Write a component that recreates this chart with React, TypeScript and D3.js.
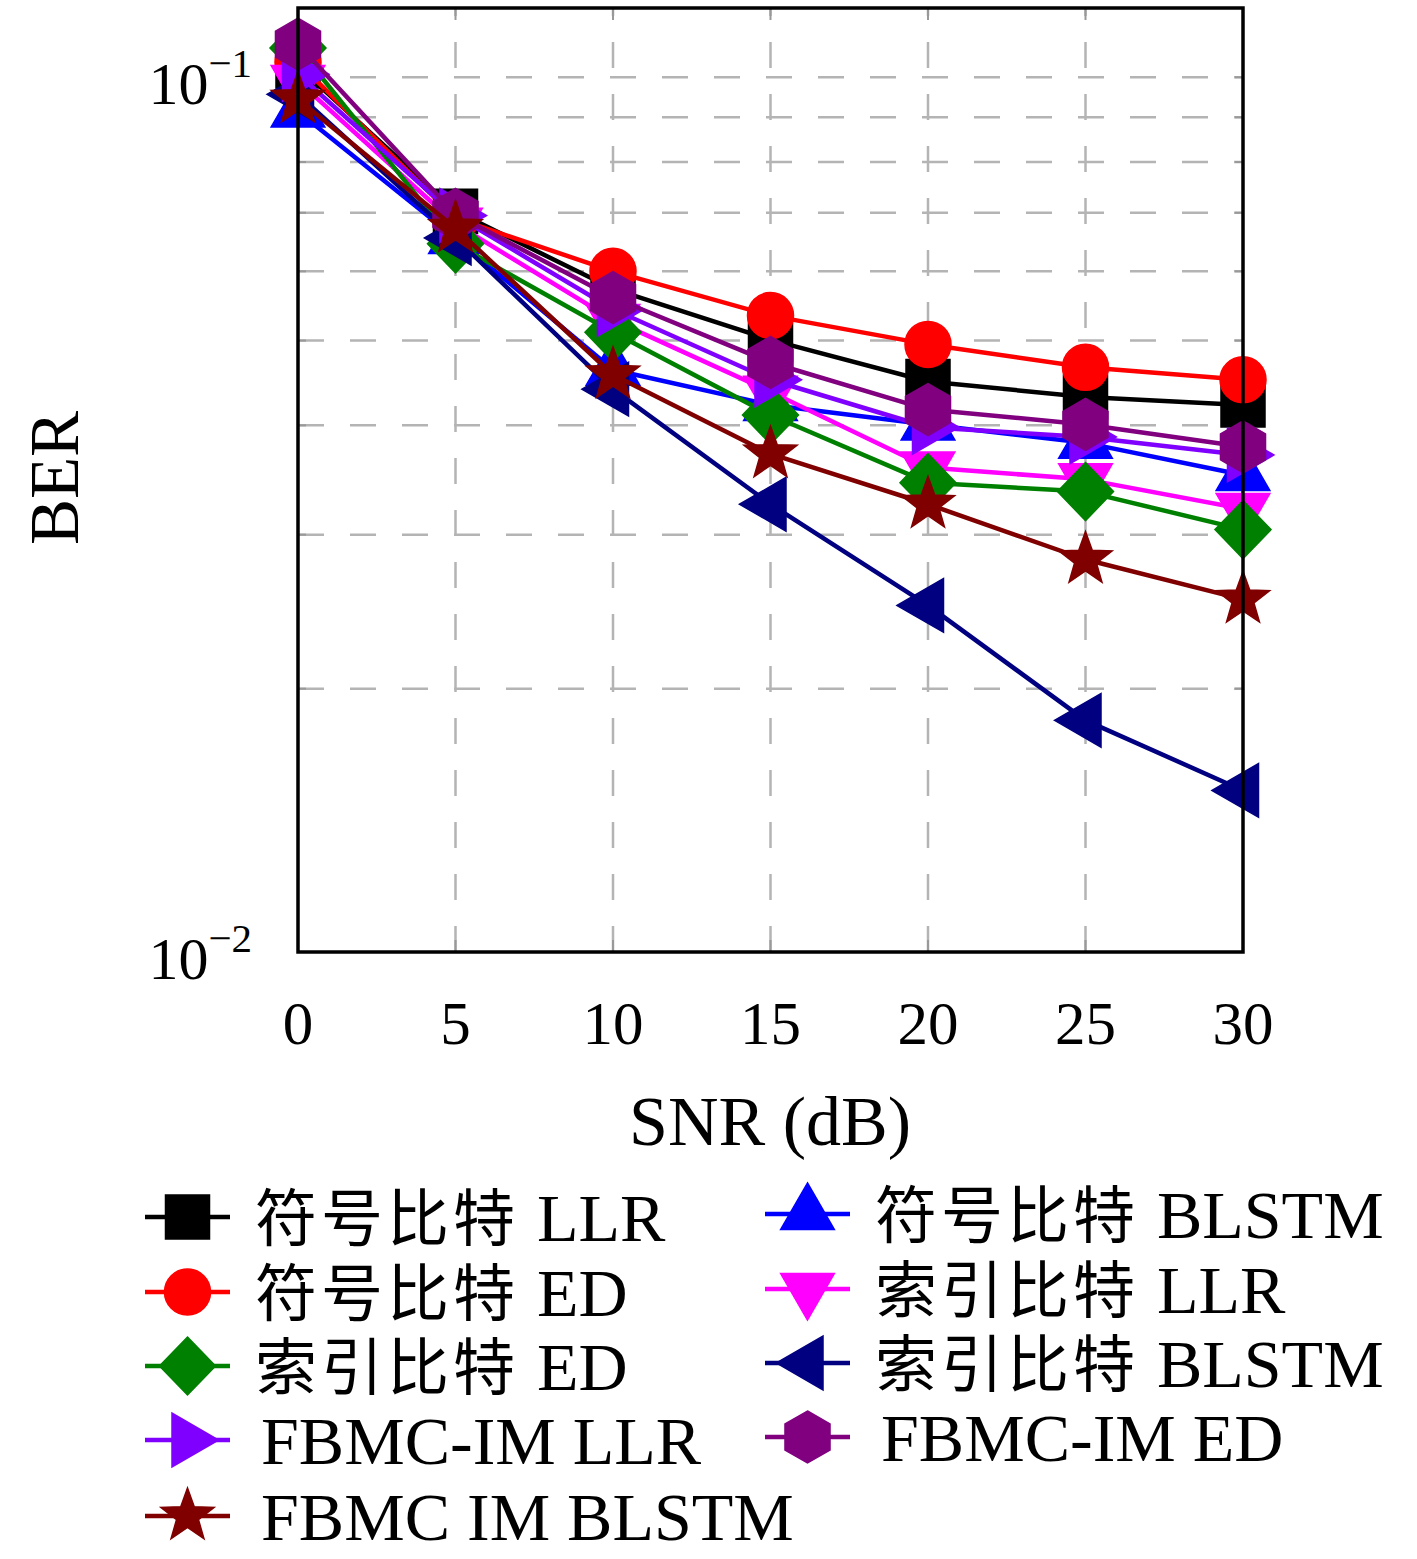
import React from 'react';
import * as d3 from 'd3';

const snr = [0, 5, 10, 15, 20, 25, 30];

const symLLR = [0.103, 0.0703, 0.0573, 0.0501, 0.0449, 0.0431, 0.0422];
const symBLSTM = [0.0914, 0.0655, 0.0463, 0.0422, 0.0401, 0.0382, 0.0351];
const symED = [0.104, 0.069, 0.06, 0.0534, 0.0495, 0.0466, 0.0451];
const idxLLR = [0.099, 0.068, 0.0528, 0.0437, 0.0358, 0.0347, 0.0321];
const idxED = [0.108, 0.0645, 0.0511, 0.0411, 0.0344, 0.0336, 0.0304];
const idxBLSTM = [0.0956, 0.0655, 0.044, 0.0325, 0.0249, 0.0184, 0.0153];
const fbmcLLR = [0.1008, 0.0695, 0.0543, 0.0451, 0.0398, 0.0388, 0.037];
const fbmcED = [0.1091, 0.0697, 0.056, 0.0472, 0.0417, 0.0401, 0.0378];
const fbmcBLSTM = [0.0944, 0.0672, 0.0457, 0.0371, 0.0325, 0.0281, 0.0253];

const xTicks = [0, 5, 10, 15, 20, 25, 30];
const yMinor = [0.02, 0.03, 0.04, 0.05, 0.06, 0.07, 0.08, 0.09, 0.1];

type Series = { cn: string; en: string; color: string; mark: string; values: number[]; col: number; row: number };

// plot order = legend row order (two columns)
const series: Series[] = [
  { cn: '符号比特', en: 'LLR', color: '#000000', mark: 'square', values: symLLR, col: 0, row: 0 },
  { cn: '符号比特', en: 'BLSTM', color: '#0000ff', mark: 'up', values: symBLSTM, col: 1, row: 0 },
  { cn: '符号比特', en: 'ED', color: '#ff0000', mark: 'circle', values: symED, col: 0, row: 1 },
  { cn: '索引比特', en: 'LLR', color: '#ff00ff', mark: 'down', values: idxLLR, col: 1, row: 1 },
  { cn: '索引比特', en: 'ED', color: '#008000', mark: 'diamond', values: idxED, col: 0, row: 2 },
  { cn: '索引比特', en: 'BLSTM', color: '#000080', mark: 'left', values: idxBLSTM, col: 1, row: 2 },
  { cn: '', en: 'FBMC-IM LLR', color: '#8000ff', mark: 'right', values: fbmcLLR, col: 0, row: 3 },
  { cn: '', en: 'FBMC-IM ED', color: '#800080', mark: 'hexagon', values: fbmcED, col: 1, row: 3 },
  { cn: '', en: 'FBMC IM BLSTM', color: '#800000', mark: 'star', values: fbmcBLSTM, col: 0, row: 4 },
];

const poly = (pts: [number, number][]) => 'M' + pts.map((p) => p.map((v) => v.toFixed(2)).join(',')).join('L') + 'Z';

function markPath(kind: string): string {
  const tri = (rot: number) => {
    const r = 31;
    return poly(
      [0, 1, 2].map((i) => {
        const a = ((-90 + rot + i * 120) * Math.PI) / 180;
        return [r * Math.cos(a), r * Math.sin(a)] as [number, number];
      })
    );
  };
  switch (kind) {
    case 'square':
      return poly([[-22, -22], [22, -22], [22, 22], [-22, 22]]);
    case 'circle':
      return d3.symbol(d3.symbolCircle, Math.PI * 23 * 23)() as string;
    case 'diamond':
      return poly([[0, -29], [28, 0], [0, 29], [-28, 0]]);
    case 'up':
      return tri(0);
    case 'down':
      return tri(180);
    case 'left':
      return tri(-90);
    case 'right':
      return tri(90);
    case 'hexagon':
      return poly(
        d3.range(6).map((i) => {
          const a = ((-90 + i * 60) * Math.PI) / 180;
          return [26 * Math.cos(a), 26 * Math.sin(a)] as [number, number];
        })
      );
    case 'star':
      return poly(
        d3.range(10).map((i) => {
          const r = i % 2 === 0 ? 28 : 11.5;
          const a = ((-90 + i * 36) * Math.PI) / 180;
          return [r * Math.cos(a), r * Math.sin(a)] as [number, number];
        })
      );
    default:
      return '';
  }
}

const serif = '"Liberation Serif", "DejaVu Serif", serif';
const cjk = '"Noto Sans CJK SC", sans-serif';

export default function App() {
  const left = 298;
  const right = 1243;
  const top = 8;
  const bottom = 952;

  const x = d3.scaleLinear().domain([0, 30]).range([left, right]);
  const y = d3.scaleLog().domain([0.01, 0.12]).range([bottom, top]);

  const line = d3
    .line<number>()
    .x((_, i) => x(snr[i]))
    .y((d) => y(d));

  const legX = [145, 765];
  const legY = [1217, 1292, 1366, 1440, 1516];

  return (
    <svg width={1417} height={1559} style={{ position: 'absolute', left: 0, top: 0, background: '#fff' }}>
      {/* grid */}
      <g stroke="#b4b4b4" strokeWidth={2.5} strokeDasharray="26 26" fill="none">
        {yMinor.map((v) => (
          <line key={'h' + v} x1={left} x2={right} y1={y(v)} y2={y(v)} />
        ))}
        {xTicks.slice(1, -1).map((v) => (
          <line key={'v' + v} x1={x(v)} x2={x(v)} y1={bottom} y2={top} />
        ))}
      </g>
      {/* ticks */}
      <g stroke="#999" strokeWidth={2}>
        {xTicks.map((v) => (
          <g key={'t' + v}>
            <line x1={x(v)} x2={x(v)} y1={bottom} y2={bottom - 12} />
            <line x1={x(v)} x2={x(v)} y1={top} y2={top + 12} />
          </g>
        ))}
        {yMinor.map((v) => (
          <g key={'ty' + v}>
            <line x1={left} x2={left + 8} y1={y(v)} y2={y(v)} />
            <line x1={right} x2={right - 8} y1={y(v)} y2={y(v)} />
          </g>
        ))}
      </g>

      {/* series */}
      {series.map((s) => (
        <g key={s.cn + s.en}>
          <path d={line(s.values) as string} fill="none" stroke={s.color} strokeWidth={4.5} strokeLinejoin="round" />
          {s.values.map((v, i) => (
            <path
              key={i}
              d={markPath(s.mark)}
              transform={`translate(${x(snr[i])},${y(v)})`}
              fill={s.color}
              stroke={s.color}
              strokeWidth={1.5}
            />
          ))}
        </g>
      ))}

      {/* frame */}
      <rect x={left} y={top} width={right - left} height={bottom - top} fill="none" stroke="#000" strokeWidth={3.5} />

      {/* x tick labels */}
      <g fontFamily={serif} fontSize={61} textAnchor="middle">
        {xTicks.map((v) => (
          <text key={'xl' + v} x={x(v)} y={1044}>
            {v}
          </text>
        ))}
      </g>
      {/* y tick labels */}
      <g fontFamily={serif} textAnchor="end">
        {[0.1, 0.01].map((v) => (
          <text key={'yl' + v} x={252} y={y(v) + 27} fontSize={60}>
            10
            <tspan fontSize={41} dy={-27}>
              {v === 0.1 ? '−1' : '−2'}
            </tspan>
          </text>
        ))}
      </g>
      <text x={770} y={1145} fontFamily={serif} fontSize={70} textAnchor="middle">
        SNR (dB)
      </text>
      <text transform="translate(78,478) rotate(-90)" fontFamily={serif} fontSize={69} textAnchor="middle">
        BER
      </text>

      {/* legend */}
      {series.map((s) => {
        const lx = legX[s.col];
        const ly = legY[s.row] - (s.col === 1 ? 3 : 0);
        return (
          <g key={'lg' + s.cn + s.en}>
            <line x1={lx} x2={lx + 85} y1={ly} y2={ly} stroke={s.color} strokeWidth={4.5} />
            <path
              d={markPath(s.mark)}
              transform={`translate(${lx + 42.5},${ly})`}
              fill={s.color}
              stroke={s.color}
              strokeWidth={1.5}
            />
            <text x={lx + (s.cn ? 110 : 116)} y={ly + 24} fontSize={68} fontFamily={serif}>
              {s.cn && (
                <tspan fontFamily={cjk} fontSize={62} letterSpacing={4}>
                  {s.cn + ' '}
                </tspan>
              )}
              <tspan>{s.en}</tspan>
            </text>
          </g>
        );
      })}
    </svg>
  );
}
